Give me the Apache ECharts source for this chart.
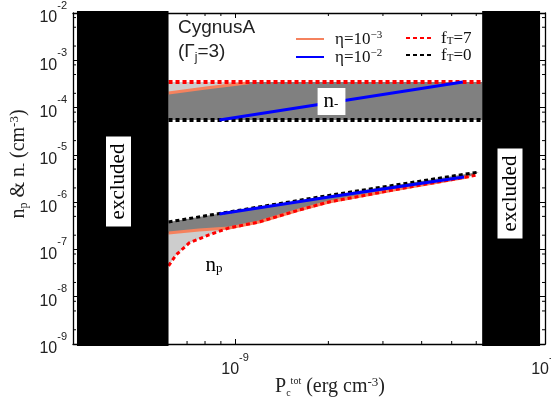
<!DOCTYPE html>
<html><head><meta charset="utf-8">
<script src="https://cdn.jsdelivr.net/npm/echarts@6/dist/echarts.min.js"></script>
<style>html,body{margin:0;padding:0;background:#fff}#c{width:551px;height:400px}</style>
</head><body><div id="c"></div>
<script>
// ---- axes ----
const xRange = [3e-10, 1e-8];
const yRange = [1e-9, 1e-2];
const xMinorTicks = [4e-10, 5e-10, 6e-10, 7e-10, 8e-10, 9e-10, 2e-9, 3e-9, 4e-9, 5e-9, 6e-9, 7e-9, 8e-9, 9e-9];
const yMinorTicks = [2e-9, 5e-9, 8e-9, 2e-8, 5e-8, 8e-8, 2e-7, 5e-7, 8e-7, 2e-6, 5e-6, 8e-6,
                     2e-5, 5e-5, 8e-5, 2e-4, 5e-4, 8e-4, 2e-3, 5e-3, 8e-3];
// ---- excluded regions (P_c^tot) ----
const excludedLow = [3.09e-10, 6.1e-10];
const excludedHigh = [6.27e-9, 9.64e-9];
// ---- n_- (upper band) ----
const nmF7 = [[6.1e-10, 3.48e-4], [6.27e-9, 3.48e-4]];
const nmF0 = [[6.1e-10, 5.47e-5], [6.27e-9, 5.47e-5]];
const nmEta3 = [[6.1e-10, 2.04e-4], [8.06e-10, 2.6e-4], [1.11e-9, 3.35e-4]];
const nmEta2 = [[8.9e-10, 5.47e-5], [2e-9, 1.25e-4], [3.5e-9, 2.22e-4], [5.43e-9, 3.48e-4]];
// ---- n_p (lower band) ----
const npF0 = [[6.1e-10, 3.81e-7], [2.01e-9, 1.39e-6], [6.12e-9, 4.34e-6]];
const npEta2 = [[8.9e-10, 5.63e-7], [2.01e-9, 1.29e-6], [5.48e-9, 3.41e-6]];
const npF7 = [[6.1e-10, 4.48e-8], [6.45e-10, 7.65e-8], [7.11e-10, 1.37e-7], [8.24e-10, 2.03e-7],
              [9.57e-10, 2.85e-7], [1.195e-9, 3.81e-7], [1.61e-9, 6.84e-7], [2.01e-9, 1.01e-6],
              [3.38e-9, 1.9e-6], [6.04e-9, 3.76e-6]];
const npEta3 = [[6.1e-10, 2.23e-7], [7.65e-10, 2.58e-7], [9.57e-10, 2.85e-7], [1.195e-9, 3.81e-7],
                [1.61e-9, 6.84e-7], [2.01e-9, 1.01e-6], [3.38e-9, 1.9e-6], [5.69e-9, 3.45e-6]];

const SERIF = '"Liberation Serif", "Times New Roman", serif';
const SANS = '"Liberation Sans", Arial, sans-serif';
const colEta3 = '#f5825e', colEta2 = '#0000ff', colF7 = '#ff0000', colF0 = '#000000';
const darkFill = '#808080', lightFill = '#cdcdcd';

const legendLabels = {
  eta3: '{t|η=10}{s|−3}', eta2: '{t|η=10}{s|−2}',
  f7: '{t|f}{b|T}{t|=7}', f0: '{t|f}{b|T}{t|=0}'
};
const legendRich = {
  t: {fontFamily: SERIF, fontSize: 17, lineHeight: 18, color: '#111', verticalAlign: 'bottom'},
  s: {fontFamily: SERIF, fontSize: 11, lineHeight: 11, color: '#111', verticalAlign: 'top'},
  b: {fontFamily: SERIF, fontSize: 11, lineHeight: 11, color: '#111', verticalAlign: 'bottom'}
};
const tickRich = {
  b: {fontFamily: SANS, fontSize: 16, lineHeight: 26, color: '#222', verticalAlign: 'bottom'},
  s: {fontFamily: SANS, fontSize: 11, lineHeight: 11, color: '#222', verticalAlign: 'top'}
};
function powLabel(v) {
  const e = Math.log10(v);
  if (Math.abs(e - Math.round(e)) > 1e-6) return '';
  return '{b|10}{s|' + Math.round(e) + '}';
}

function polySeries(upper, lower, color) {
  return {
    type: 'custom', z: 1, silent: true, animation: false,
    data: [[upper[0][0], upper[0][1]]],
    renderItem: (params, api) => {
      const pts = upper.concat(lower.slice().reverse()).map(p => api.coord(p));
      return {type: 'polygon', shape: {points: pts}, style: {fill: color}};
    }
  };
}
function lineSeries(name, data, color, width, dashed, z) {
  return {
    type: 'line', name, data, symbol: 'none', z, silent: true, animation: false,
    lineStyle: {color, width, type: dashed ? [4, 3] : 'solid', cap: 'butt'},
    itemStyle: {color}
  };
}

const axisCommon = {
  type: 'log', logBase: 10,
  axisLine: {show: true, onZero: false, lineStyle: {color: '#000', width: 1.3}},
  axisTick: {show: true, inside: true, length: 5, lineStyle: {color: '#000', width: 1}},
  splitLine: {show: false}, minorTick: {show: false}
};
const legendCommon = {
  orient: 'vertical', top: 25, itemHeight: 14, itemGap: 0, selectedMode: false,
  formatter: n => legendLabels[n], itemStyle: {opacity: 0, borderWidth: 0}
};

const chart = echarts.init(document.getElementById('c'), null, {renderer: 'canvas'});
chart.setOption({
  animation: false,
  backgroundColor: '#fff',
  grid: {left: 73, right: 6, top: 13, bottom: 56, containLabel: false, outerBoundsMode: 'none'},
  xAxis: [
    Object.assign({}, axisCommon, {position: 'bottom', min: xRange[0], max: xRange[1],
      axisLabel: {formatter: powLabel, margin: 8, rich: tickRich, showMinLabel: true, showMaxLabel: true, hideOverlap: false}}),
    Object.assign({}, axisCommon, {position: 'top', min: xRange[0], max: xRange[1], axisLabel: {show: false}})
  ],
  yAxis: [
    Object.assign({}, axisCommon, {position: 'left', min: yRange[0], max: yRange[1],
      axisLabel: {formatter: powLabel, margin: 6, rich: tickRich}}),
    Object.assign({}, axisCommon, {position: 'right', min: yRange[0], max: yRange[1], axisLabel: {show: false}})
  ],
  legend: [
    Object.assign({}, legendCommon, {data: ['eta3', 'eta2'], left: 290, itemWidth: 28,
      textStyle: {padding: [0, 0, 0, 6], rich: legendRich}}),
    Object.assign({}, legendCommon, {data: ['f7', 'f0'], left: 400, itemWidth: 25,
      textStyle: {padding: [0, 0, 0, 5], rich: legendRich}})
  ],
  graphic: [
    {type: 'text', left: 178, top: 18, z: 100, style: {text: 'CygnusA', font: '19px ' + SANS, fill: '#222'}},
    {type: 'text', left: 178, top: 42, z: 100, style: {
      text: '{t|(Γ}{b|j}{t|=3)}', rich: {
        t: {fontFamily: SANS, fontSize: 19, lineHeight: 22, fill: '#222', verticalAlign: 'top'},
        b: {fontFamily: SANS, fontSize: 12, lineHeight: 12, fill: '#222', verticalAlign: 'bottom'}}}},
    {type: 'text', x: 331.5, y: 101.5, z: 100, style: {
      text: '{t|n}{b|-}', align: 'center', verticalAlign: 'middle', backgroundColor: '#fff', padding: [3, 7, 4, 6],
      rich: {t: {fontFamily: SERIF, fontSize: 21, lineHeight: 20, fill: '#000', verticalAlign: 'top'},
             b: {fontFamily: SERIF, fontSize: 13, lineHeight: 12, fill: '#000', verticalAlign: 'bottom'}}}},
    {type: 'text', x: 214, y: 265, z: 100, style: {
      text: '{t|n}{b|p}', align: 'center', verticalAlign: 'middle',
      rich: {t: {fontFamily: SERIF, fontSize: 21, lineHeight: 20, fill: '#000', verticalAlign: 'top'},
             b: {fontFamily: SERIF, fontSize: 13, lineHeight: 12, fill: '#000', verticalAlign: 'bottom'}}}},
    {type: 'text', x: 118.5, y: 181.5, rotation: Math.PI / 2, z: 100, style: {
      text: 'excluded', font: '21px ' + SERIF, fill: '#000', align: 'center', verticalAlign: 'middle',
      backgroundColor: '#fff', padding: [2, 7, 2, 7]}},
    {type: 'text', x: 510, y: 193.5, rotation: Math.PI / 2, z: 100, style: {
      text: 'excluded', font: '21px ' + SERIF, fill: '#000', align: 'center', verticalAlign: 'middle',
      backgroundColor: '#fff', padding: [2, 7, 2, 7]}},
    {type: 'text', x: 19, y: 164, rotation: Math.PI / 2, z: 100, style: {
      text: '{t|n}{b|p}{t| & n}{b|-}{t| (cm}{s|-3}{t|)}', align: 'center', verticalAlign: 'middle',
      rich: {t: {fontFamily: SERIF, fontSize: 20, lineHeight: 22, fill: '#222', verticalAlign: 'middle'},
             b: {fontFamily: SERIF, fontSize: 12, lineHeight: 12, fill: '#222', verticalAlign: 'bottom'},
             s: {fontFamily: SERIF, fontSize: 13, lineHeight: 12, fill: '#222', verticalAlign: 'top'}}}},
    {type: 'text', x: 330, y: 387, z: 100, style: {
      text: '{t|P}{b|c}{s|tot}{t| (erg cm}{s2|-3}{t|)}', align: 'center', verticalAlign: 'middle',
      rich: {t: {fontFamily: SERIF, fontSize: 20, lineHeight: 22, fill: '#222', verticalAlign: 'middle'},
             b: {fontFamily: SERIF, fontSize: 10, lineHeight: 10, fill: '#222', verticalAlign: 'bottom'},
             s: {fontFamily: SERIF, fontSize: 10, lineHeight: 10, fill: '#222', verticalAlign: 'top'},
             s2: {fontFamily: SERIF, fontSize: 13, lineHeight: 12, fill: '#222', verticalAlign: 'top'}}}}
  ],
  series: [
    // fills
    polySeries(nmF7, nmF0, darkFill),
    polySeries([[nmEta3[0][0], nmF7[0][1]], [nmEta3[nmEta3.length - 1][0], nmF7[0][1]]], nmEta3, lightFill),
    polySeries(npF0, npEta3, darkFill),
    polySeries(npEta3, npF7, lightFill),
    // curves
    lineSeries('eta3', nmEta3, colEta3, 3, false, 3),
    lineSeries('eta3', npEta3, colEta3, 3, false, 3),
    lineSeries('f7', nmF7, colF7, 4, true, 4),
    lineSeries('f7', npF7, colF7, 3, true, 4),
    lineSeries('eta2', nmEta2, colEta2, 3, false, 5),
    lineSeries('eta2', npEta2, colEta2, 3, false, 5),
    lineSeries('f0', nmF0, colF0, 4, true, 4),
    lineSeries('f0', npF0, colF0, 3, true, 4),
    // minor ticks on x (bottom & top)
    {type: 'custom', z: 6, silent: true, animation: false,
     data: xMinorTicks.map(v => [v, yRange[0]]),
     renderItem: (params, api) => {
       const v = api.value(0);
       const b = api.coord([v, yRange[0]]), t = api.coord([v, yRange[1]]);
       return {type: 'group', children: [
         {type: 'line', shape: {x1: b[0], y1: b[1], x2: b[0], y2: b[1] - 3}, style: {stroke: '#000', lineWidth: 1}},
         {type: 'line', shape: {x1: t[0], y1: t[1], x2: t[0], y2: t[1] + 3}, style: {stroke: '#000', lineWidth: 1}}]};
     }},
    // minor ticks on y (left & right)
    {type: 'custom', z: 6, silent: true, animation: false,
     data: yMinorTicks.map(v => [xRange[0], v]),
     renderItem: (params, api) => {
       const v = api.value(1);
       const l = api.coord([xRange[0], v]), r = api.coord([xRange[1], v]);
       return {type: 'group', children: [
         {type: 'line', shape: {x1: l[0], y1: l[1], x2: l[0] + 3, y2: l[1]}, style: {stroke: '#000', lineWidth: 1}},
         {type: 'line', shape: {x1: r[0], y1: r[1], x2: r[0] - 3, y2: r[1]}, style: {stroke: '#000', lineWidth: 1}}]};
     }},
    // excluded black regions
    {type: 'custom', z: 8, silent: true, animation: false,
     data: [[excludedLow[0], yRange[0], excludedLow[1], yRange[1]],
            [excludedHigh[0], yRange[0], excludedHigh[1], yRange[1]]],
     encode: {x: [0, 2], y: [1, 3]},
     renderItem: (params, api) => {
       const p0 = api.coord([api.value(0), api.value(3)]);
       const p1 = api.coord([api.value(2), api.value(1)]);
       return {type: 'rect', shape: {x: p0[0], y: p0[1] - 2, width: p1[0] - p0[0], height: p1[1] - p0[1] + 4},
               style: {fill: '#000'}};
     }}
  ]
});
</script></body></html>
